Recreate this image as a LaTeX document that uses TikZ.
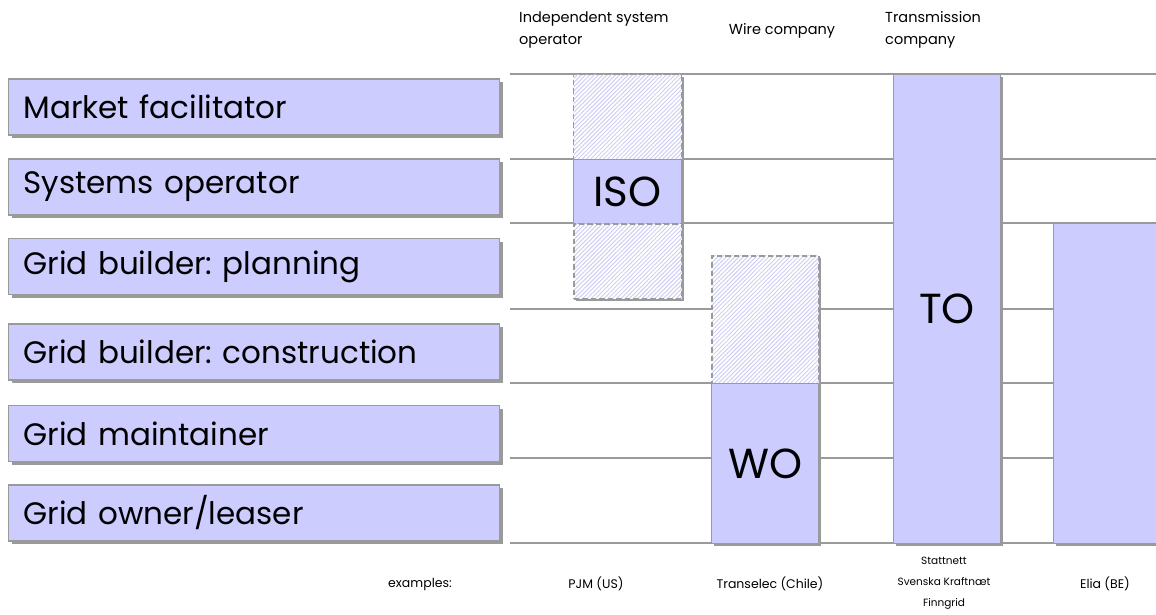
\documentclass[tikz,border=0pt]{standalone}
\usepackage{fontspec}
\setmainfont{Poppins}
\usetikzlibrary{patterns.meta,shadows}
\definecolor{lav}{HTML}{CCCCFF}
\definecolor{rim}{HTML}{9A9A9A}
\definecolor{hatch}{HTML}{CFCFF5}
\frenchspacing
\begin{document}
\begin{tikzpicture}[x=1pt,y=-1pt,
  role/.style={draw=rim, fill=lav, line width=1.2pt, anchor=west,
    minimum width=491pt, minimum height=56pt, inner xsep=15pt,
    text width=461pt, align=left, font=\fontsize{31}{34}\selectfont,
    drop shadow={shadow xshift=3pt, shadow yshift=-3pt, fill=rim, opacity=1}},
  cell/.style={draw=rim, fill=lav, line width=1.2pt, inner sep=0pt,
    anchor=north west, font=\fontsize{42}{44}\selectfont},
  open/.style={draw=rim, dash pattern=on 5.5pt off 3pt, line width=1.8pt,
    preaction={fill=white},
    pattern={Lines[angle=45,distance=3pt,line width=1pt]}, pattern color=hatch,
    inner sep=0pt, anchor=north west},
  rule/.style={draw=rim, line width=1.4pt},
  shade/.style={fill=rim},
  head/.style={font=\fontsize{14.5}{22}\selectfont, align=left, inner sep=0pt},
  ex/.style={font=\fontsize{12.5}{14}\selectfont, inner sep=0pt},
  exs/.style={font=\fontsize{10.5}{21}\selectfont, align=center, inner sep=0pt}]
\useasboundingbox (0,0) rectangle (1156,614);

% row rules
\foreach \y in {74,159,223,309,383,458,543}
  \draw[rule] (510,\y) -- (1156,\y);

% roles
\node[role] (mf) at (8,107) {Market facilitator};
\node[role] (so) at (8,187) {Systems operator};
\node[role] (gp) at (8,266.5) {Grid builder: planning};
\node[role] (gc) at (8,352) {Grid builder: construction};
\node[role] (gm) at (8,433.5) {Grid maintainer};
\node[role] (go) at (8,513) {Grid owner/leaser};

% column headings
\node[head, anchor=north west] (hiso) at (519,12) {Independent system\\operator};
\node[head, anchor=center] (hwire) at (782,31) {Wire company};
\node[head, anchor=north west] (htrans) at (885,11) {Transmission\\company};

% independent system operator
\fill[shade] (576,77) rectangle (684,301);
\node[open, minimum width=108pt, minimum height=85pt] (isoa) at (573,74) {};
\node[cell, minimum width=108pt, minimum height=64pt] (iso) at (573,159) {ISO};
\node[open, minimum width=108pt, minimum height=75pt] (isob) at (573,223) {};

% wire company
\fill[shade] (714,258) rectangle (821,546);
\node[open, minimum width=107pt, minimum height=128pt] (woa) at (711,255) {};
\node[cell, minimum width=107pt, minimum height=160pt] (wo) at (711,383) {WO};

% transmission company
\fill[shade] (896,77) rectangle (1003,546);
\node[cell, minimum width=107pt, minimum height=469pt] (to) at (893,74) {TO};

% fourth column
\fill[shade] (1056,226) rectangle (1170,546);
\node[cell, minimum width=110pt, minimum height=320pt] (elia) at (1053,223) {};

% examples
\node[ex] (exl) at (420,584) {examples:};
\node[ex] (pjm) at (596,584) {PJM (US)};
\node[ex] (tra) at (770,584) {Transelec (Chile)};
\node[exs] (nord) at (944,583) {Stattnett\\Svenska Kraftnæt\\Finngrid};
\node[ex] (eli) at (1105,584) {Elia (BE)};
\end{tikzpicture}
\end{document}
